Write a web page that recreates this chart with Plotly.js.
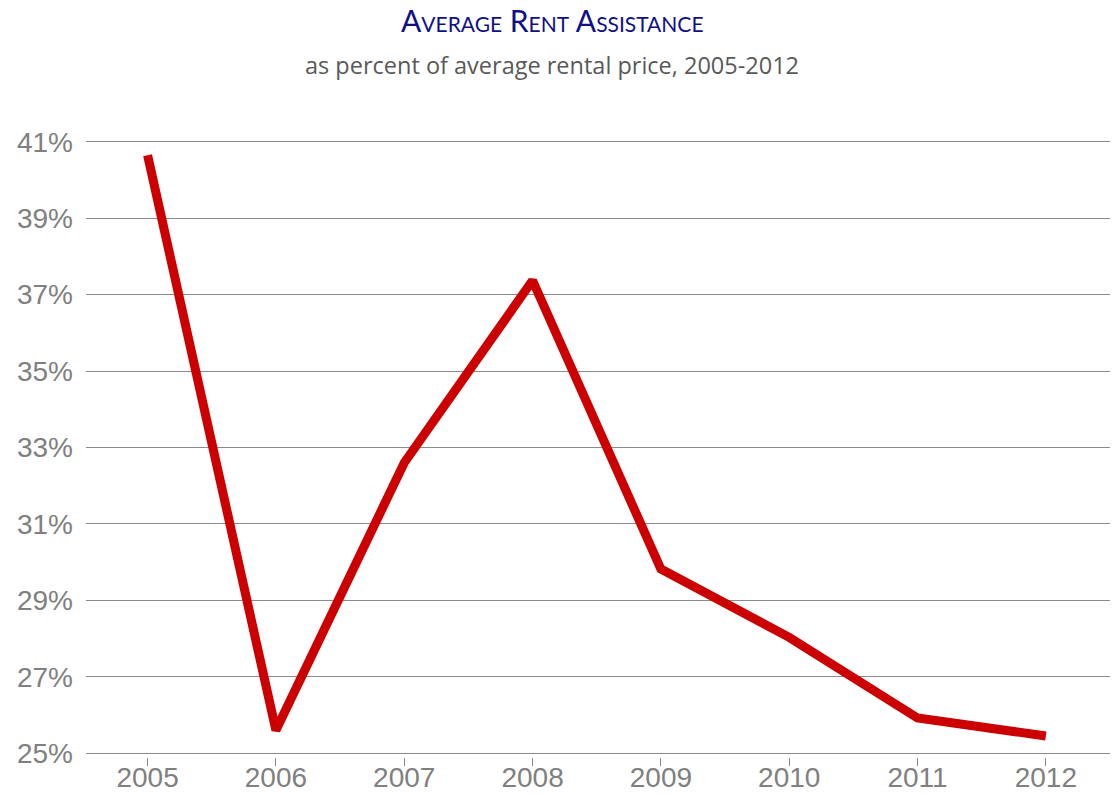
<!DOCTYPE html>
<html>
<head>
<meta charset="utf-8">
<script src="https://cdn.plot.ly/plotly-3.0.1.min.js"></script>
<style>html,body{margin:0;padding:0;background:#fff;}#chart{width:1112px;height:794px;}</style>
</head>
<body>
<div id="chart"></div>
<script>
const years = ["2005", "2006", "2007", "2008", "2009", "2010", "2011", "2012"];
const rentAssistancePct = [40.65, 25.6, 32.6, 37.37, 29.82, 28.03, 25.92, 25.45];
const yTickVals = [25, 27, 29, 31, 33, 35, 37, 39, 41];
const yTickText = ["25%", "27%", "29%", "31%", "33%", "35%", "37%", "39%", "41%"];
const titleText = "Average Rent Assistance";
const subtitleText = "as percent of average rental price, 2005-2012";

const trace = {
  x: years,
  y: rentAssistancePct,
  type: "scatter",
  mode: "lines",
  line: { color: "#CC0000", width: 9, shape: "linear" },
  hoverinfo: "x+y"
};

const layout = {
  width: 1112,
  height: 794,
  margin: { l: 86, r: 2, t: 138, b: 37 },
  paper_bgcolor: "#ffffff",
  plot_bgcolor: "#ffffff",
  showlegend: false,
  xaxis: {
    type: "category",
    range: [-0.48, 7.5],
    showgrid: false,
    zeroline: false,
    showline: false,
    ticks: "outside",
    ticklen: 8,
    tickwidth: 1,
    tickcolor: "#888888",
    ticklabelstandoff: -13,
    tickfont: { family: "Liberation Sans, Arial, sans-serif", size: 28, color: "#808080" },
    fixedrange: true
  },
  yaxis: {
    range: [24.9, 41.1],
    tickvals: yTickVals,
    ticktext: yTickText,
    showgrid: true,
    gridcolor: "#8c8c8c",
    gridwidth: 1,
    zeroline: false,
    showline: false,
    ticks: "",
    ticklabelstandoff: 12,
    tickfont: { family: "Liberation Sans, Arial, sans-serif", size: 28, color: "#808080" },
    fixedrange: true
  },
  annotations: [
    {
      text: titleText,
      xref: "paper", yref: "paper",
      x: 0.5, y: 1, xanchor: "center", yanchor: "middle",
      xshift: -46, yshift: 118,
      showarrow: false,
      font: { family: "Lato, Open Sans, sans-serif", size: 30, color: "#0f0f8a", variant: "small-caps" }
    },
    {
      text: subtitleText,
      xref: "paper", yref: "paper",
      x: 0.5, y: 1, xanchor: "center", yanchor: "middle",
      xshift: -46, yshift: 73,
      showarrow: false,
      font: { family: "Open Sans, sans-serif", size: 23.5, color: "#595959" }
    }
  ]
};

Plotly.newPlot("chart", [trace], layout, { displayModeBar: false, staticPlot: true });
</script>
</body>
</html>
